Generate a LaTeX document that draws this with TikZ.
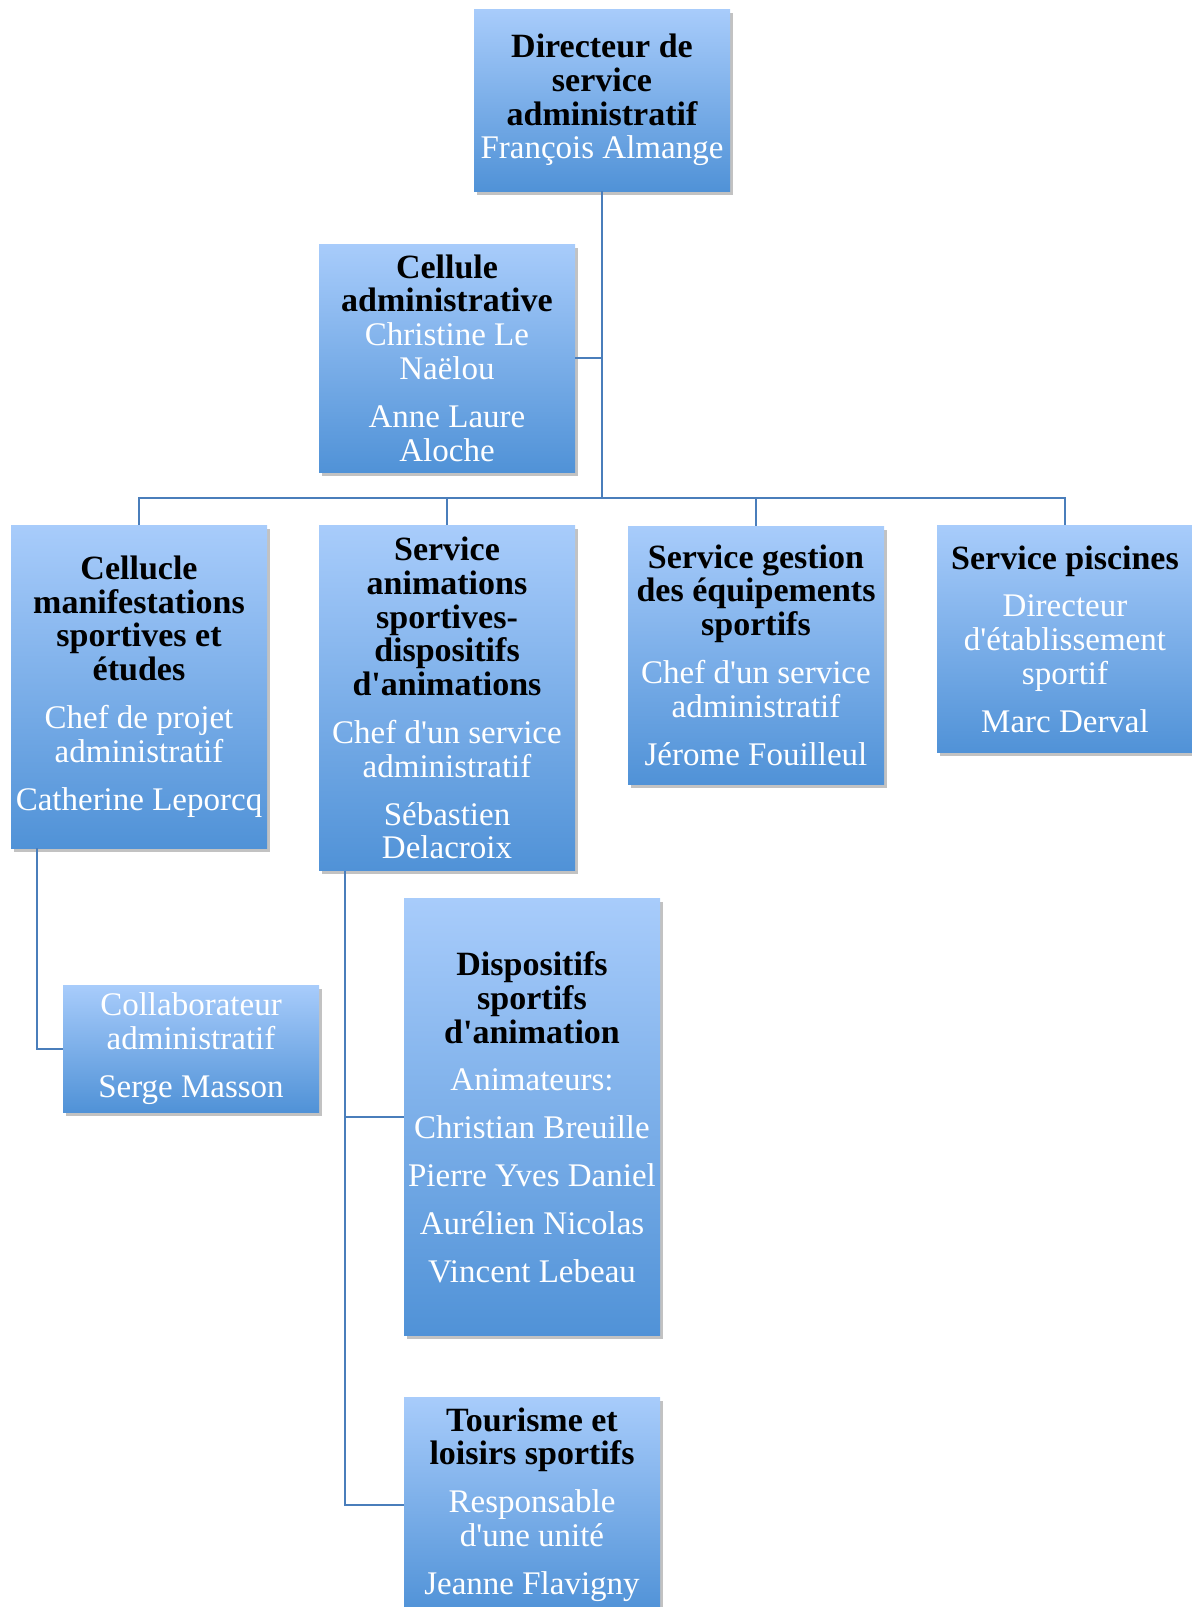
\documentclass[tikz,border=0pt]{standalone}
\usepackage{fontspec}
\setmainfont{Liberation Serif}[Ligatures=TeXOff]
\usetikzlibrary{shadows}
\definecolor{boxtop}{RGB}{168,204,251}
\definecolor{boxbot}{RGB}{80,146,215}
\definecolor{linkblue}{RGB}{74,126,187}
\newcommand{\ttl}[1]{{\fontsize{17}{16.9}\selectfont\bfseries\color{black}#1}}

\begin{document}
\begin{tikzpicture}[
  x=0.5pt, y=-0.5pt,
  unit/.style={rectangle, top color=boxtop, bottom color=boxbot, draw=none, text=white, minimum width=128pt, inner sep=0pt, align=center, font=\fontsize{16.5}{16.9}\selectfont, drop shadow={opacity=0.4, fill=black!60, shadow xshift=1.5pt, shadow yshift=-1.8pt}},
  link/.style={draw=linkblue, line width=1pt}
]
\useasboundingbox (0,0) rectangle (1192,1607);

\node[unit, minimum height=91pt] (dir) at (602,100) {\ttl{Directeur de}\\\ttl{service}\\\ttl{administratif}\\François Almange};
\node[unit, minimum height=114pt] (celladm) at (447,358) {\ttl{Cellule}\\\ttl{administrative}\\Christine Le\\Naëlou\\[7pt]Anne Laure\\Aloche};

\node[unit, minimum height=161.5pt] (cmsport) at (139,686.5) {\ttl{Cellucle}\\\ttl{manifestations}\\\ttl{sportives et}\\\ttl{études}\\[7pt]Chef de projet\\administratif\\[7pt]Catherine Leporcq};
\node[unit, minimum height=172.5pt] (sanim) at (447,698) {\ttl{Service}\\\ttl{animations}\\\ttl{sportives-}\\\ttl{dispositifs}\\\ttl{d'animations}\\[7pt]Chef d'un service\\administratif\\[7pt]Sébastien\\Delacroix};
\node[unit, minimum height=129pt] (sgest) at (756,655) {\ttl{Service gestion}\\\ttl{des équipements}\\\ttl{sportifs}\\[7pt]Chef d'un service\\administratif\\[7pt]Jérome Fouilleul};
\node[unit, minimum height=113.5pt] (spisc) at (1065,639) {\ttl{Service piscines}\\[7pt]Directeur\\d'établissement\\sportif\\[7pt]Marc Derval};

\node[unit, minimum height=63.5pt] (collab) at (191,1048.5) {Collaborateur\\administratif\\[7pt]Serge Masson};
\node[unit, minimum height=218.5pt] (dispo) at (532,1117) {\ttl{Dispositifs}\\\ttl{sportifs}\\\ttl{d'animation}\\[7pt]Animateurs:\\[7pt]Christian Breuille\\[7pt]Pierre Yves Daniel\\[7pt]Aurélien Nicolas\\[7pt]Vincent Lebeau};
\node[unit, minimum height=107.5pt] (tour) at (532,1504.5) {\ttl{Tourisme et}\\\ttl{loisirs sportifs}\\[7pt]Responsable\\d'une unité\\[7pt]Jeanne Flavigny};

\coordinate (hub) at (602,498);
\coordinate (cmfoot) at ([xshift=13pt]cmsport.south west);
\coordinate (safoot) at ([xshift=13pt]sanim.south west);

\draw[link] (dir.south) -- (hub);
\draw[link] (celladm.east) -- (celladm.east -| dir.south);
\draw[link] (cmsport.north) |- (hub) -| (spisc.north);
\draw[link] (hub) -| (sanim.north);
\draw[link] (hub) -| (sgest.north);
\draw[link] (cmfoot) |- (collab.west);
\draw[link] (safoot) |- (tour.west);
\draw[link] (safoot |- dispo.west) -- (dispo.west);
\end{tikzpicture}
\end{document}
